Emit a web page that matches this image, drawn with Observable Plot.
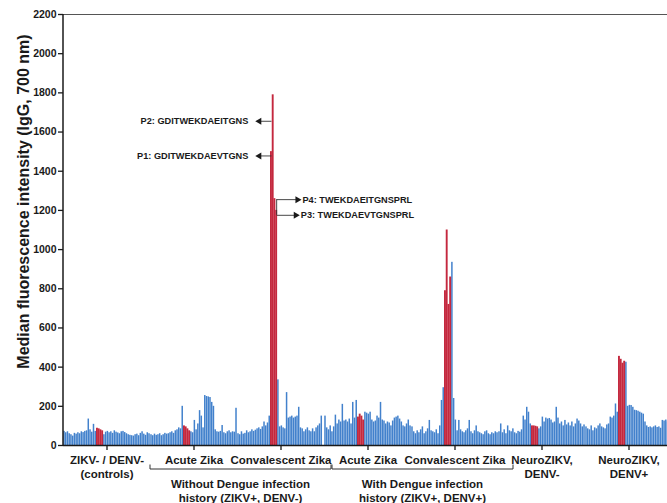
<!DOCTYPE html>
<html><head><meta charset="utf-8">
<script src="https://cdn.jsdelivr.net/npm/d3@7"></script>
<script src="https://cdn.jsdelivr.net/npm/@observablehq/plot@0.6"></script>
<style>
html,body{margin:0;padding:0;overflow:hidden;background:#fff;}
#chart svg{max-width:none;}
</style></head><body><div id="chart"></div>
<script>
// ---- data ----
const groups = ["ctrl", "acuteN", "convN", "acuteD", "convD", "neuroN", "neuroD"];
const groupLabels = ["ZIKV- / DENV-\n(controls)", "Acute Zika", "Convalescent Zika", "Acute Zika", "Convalescent Zika", "NeuroZIKV,\nDENV-", "NeuroZIKV,\nDENV+"];
const bracketGroups = [["acuteN", "convN"], ["acuteD", "convD"]];
const bracketLabels = ["Without Dengue infection\nhistory (ZIKV+, DENV-)", "With Dengue infection\nhistory (ZIKV+, DENV+)"];
const peptideIndices = [19, 20, 21, 22];

const ctrlValues = [72, 65, 70, 60, 55, 48, 62, 58, 65, 60, 70, 66, 72, 75, 135, 80, 68, 108, 72,
  88, 85, 80, 75,
  55, 68, 72, 65, 70, 62, 75, 68, 64, 60, 70, 72, 66, 60, 55, 52, 50, 48, 55, 58, 50, 62, 70, 58, 52, 65, 60];
const acuteNValues = [55, 50, 58, 52, 55, 60, 50, 55, 62, 58, 60, 65, 70, 62, 75, 80, 90, 85, 200,
  100, 95, 85, 75,
  70, 65, 128, 80, 110, 178, 150, 90, 255, 250, 248, 245, 220, 200, 80, 70, 68, 72, 102, 65, 60, 70, 75, 65, 70, 68, 190];
const convNValues = [60, 55, 70, 58, 62, 75, 65, 70, 80, 72, 78, 85, 90, 82, 95, 120, 100, 115, 150,
  1500, 1790, 1260, 1200,
  335, 95, 100, 90, 85, 270, 140, 145, 150, 140, 145, 150, 195, 90, 85, 70, 80, 90, 75, 70, 85, 70, 90, 100, 110, 150];
const acuteDValues = [150, 90, 80, 100, 70, 95, 155, 110, 130, 120, 210, 125, 130, 120, 135, 110, 220, 140, 230,
  145, 160, 150, 130,
  170, 165, 160, 170, 130, 120, 125, 150, 140, 220, 130, 125, 110, 120, 115, 100, 125, 140, 145, 150, 135, 120, 100, 95, 110, 130, 100];
const convDValues = [95, 70, 60, 75, 65, 80, 95, 60, 70, 85, 128, 75, 70, 65, 80, 60, 100, 230, 295,
  790, 1100, 720, 860,
  935, 240, 130, 75, 128, 80, 70, 65, 75, 85, 128, 70, 60, 75, 100, 70, 65, 60, 55, 70, 75, 60, 55, 65, 60, 70, 65];
const neuroNValues = [70, 110, 65, 80, 60, 100, 75, 70, 85, 65, 60, 72, 68, 80, 150, 130, 195, 170, 110,
  100, 100, 98, 95,
  85, 95, 145, 120, 140, 135, 138, 130, 115, 120, 195, 140, 110, 120, 100, 128, 105, 115, 100, 120, 95, 110, 135, 125, 110, 95, 105];
const neuroDValues = [95, 85, 80, 100, 75, 90, 85, 100, 110, 95, 90, 85, 105, 110, 145, 140, 150, 212, 170,
  455, 440, 420, 430,
  425, 200, 205, 204, 195, 180, 178, 175, 170, 165, 160, 120, 100, 92, 95, 90, 95, 100, 92, 95, 88, 128, 125, 130, 120, 110, 100];
const groupValues = [ctrlValues, acuteNValues, convNValues, acuteDValues, convDValues, neuroNValues, neuroDValues];

const annLabels = ["P2: GDITWEKDAEITGNS", "P1: GDITWEKDAEVTGNS", "P4: TWEKDAEITGNSPRL", "P3: TWEKDAEVTGNSPRL"];
const annValues = [1655, 1478, 1255, 1175];
const annSides = ["left", "left", "right", "right"];
const annGroup = "convN";

// ---- build ----
const BLUE = "#4281cc", RED = "#c4283e", INK = "#1a1a1a";
const FONT = "'Liberation Sans', Arial, Helvetica, sans-serif";
const nBars = ctrlValues.length;
const data = [];
groups.forEach((g, gi) => groupValues[gi].forEach((v, i) => data.push({group: g, idx: i, value: v, pep: peptideIndices.includes(i)})));
const labelOf = Object.fromEntries(groups.map((g, i) => [g, groupLabels[i]]));

const pStart = peptideIndices[0], pEnd = peptideIndices[peptideIndices.length - 1];
const ann = annLabels.map((label, i) => ({
  label, value: annValues[i], side: annSides[i],
  from: annSides[i] === "left" ? pStart : pEnd,
  to: annSides[i] === "left" ? pStart - 7 : pEnd + 12 + (i === 3 ? -1 : 0)
}));
const rightAnn = ann.filter(d => d.side === "right");

const plot = Plot.plot({
  width: 672, height: 503,
  marginTop: 14, marginBottom: 58, marginLeft: 63, marginRight: 0,
  style: {fontFamily: FONT, background: "#fff", maxWidth: "none", overflow: "visible"},
  fx: {domain: groups, padding: 0},
  x: {type: "band", domain: d3.range(nBars), padding: 0.14, axis: null},
  y: {domain: [0, 2200]},
  marks: [
    Plot.barY(data.filter(d => !d.pep), {fx: "group", x: "idx", y: "value", fill: BLUE}),
    Plot.barY(data.filter(d => d.pep), {fx: "group", x: "idx", y: "value", fill: RED, insetLeft: -0.2, insetRight: -0.2}),
    Plot.ruleY([0], {stroke: INK, strokeWidth: 1.5}),
    Plot.ruleY([2200], {stroke: "#555", strokeWidth: 1}),
    Plot.axisY({ticks: d3.range(0, 2201, 200), tickFormat: "d", tickSize: 5, tickPadding: 2,
      fontSize: 10.5, fontWeight: "bold", label: null, stroke: INK, fill: INK, strokeWidth: 1.3}),
    Plot.axisFx({anchor: "bottom", tickSize: 5, tickPadding: 4, fontSize: 11.5, fontWeight: "bold",
      label: null, tickFormat: g => labelOf[g], lineHeight: 1.22, stroke: INK, fill: INK, strokeWidth: 1.3}),
    // annotations
    Plot.link(ann, {fx: () => annGroup, x1: "from", x2: "to", y1: "value", y2: "value", stroke: "#333", strokeWidth: 0.9}),
    Plot.ruleX([0], {fx: () => annGroup, x: () => pEnd, y1: () => d3.max(rightAnn, d => d.value), y2: () => d3.min(rightAnn, d => d.value), stroke: "#333", strokeWidth: 0.9}),
    Plot.dot(ann, {fx: () => annGroup, x: "to", y: "value", symbol: "triangle", r: 2.6, fill: INK, stroke: null,
      rotate: d => d.side === "left" ? -90 : 90}),
    Plot.text(ann.filter(d => d.side === "left"), {fx: () => annGroup, x: "to", y: "value", text: "label",
      textAnchor: "end", dx: -11, fontSize: 9.2, fontWeight: "bold", fill: INK}),
    Plot.text(rightAnn, {fx: () => annGroup, x: "to", y: "value", text: "label",
      textAnchor: "start", dx: 5, fontSize: 9.2, fontWeight: "bold", fill: INK})
  ]
});
document.getElementById("chart").appendChild(plot);

// ---- overlays positioned from Plot's scales ----
const svg = d3.select(plot);
const fx = plot.scale("fx"), y = plot.scale("y");
const bw = fx.bandwidth;
const x0 = fx.apply(groups[0]);
svg.append("line").attr("x1", x0).attr("x2", x0).attr("y1", y.apply(0) + 0.75).attr("y2", y.apply(2200))
  .attr("stroke", INK).attr("stroke-width", 1.5);

// y-axis title
svg.append("text").attr("transform", `translate(${x0 - 40},${(y.apply(0) + y.apply(2200)) / 2 - 28}) rotate(-90)`)
  .attr("text-anchor", "middle").attr("dominant-baseline", "central")
  .attr("font-family", FONT).attr("font-weight", "bold").attr("font-size", 16).attr("fill", INK)
  .text("Median fluorescence intensity (IgG, 700 nm)");

// group brackets
const shifts = [[0, 7], [8, 15]];
const by = y.apply(0) + 24;
bracketGroups.forEach(([a, b], i) => {
  const xa = fx.apply(a) + shifts[i][0], xb = fx.apply(b) + bw + shifts[i][1];
  svg.append("path").attr("d", `M${xa},${by - 4.5}V${by}H${xb}V${by - 4.5}`)
    .attr("fill", "none").attr("stroke", "#333").attr("stroke-width", 1);
  const t = svg.append("text").attr("text-anchor", "middle").attr("font-family", FONT)
    .attr("font-weight", "bold").attr("font-size", 11.5).attr("fill", INK);
  bracketLabels[i].split("\n").forEach((line, k) => {
    t.append("tspan").attr("x", (xa + xb) / 2).attr("y", by + 19 + k * 13.5).text(line);
  });
});
</script></body></html>
